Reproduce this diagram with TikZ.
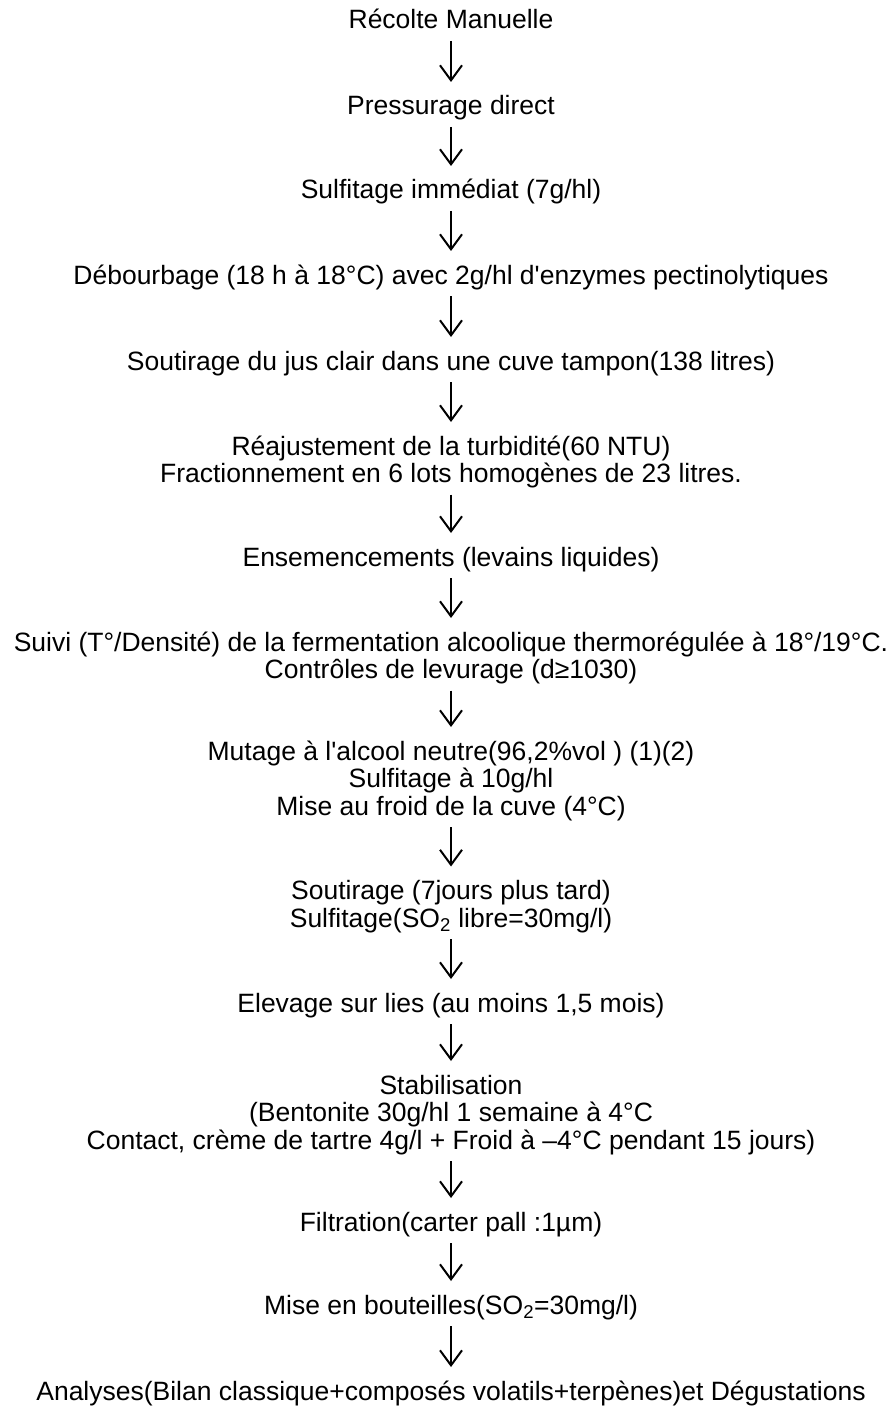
\documentclass[tikz,border=0pt]{standalone}
\usepackage{fontspec}
\setmainfont{Liberation Sans}
\usetikzlibrary{arrows.meta}
\begin{document}
\begin{tikzpicture}[x=1bp,y=-1bp,
  lbl/.style={anchor=base, inner sep=0pt, align=center, font=\fontsize{26.5bp}{27.5bp}\selectfont},
  arr/.style={-{Straight Barb[length=15bp,width=22bp,line width=2bp]}, line width=2bp, shorten <=12bp, shorten >=#1},
  arr/.default=33bp]
\useasboundingbox (0,0) rectangle (894,1413);
% base anchor = baseline of the last line
\node[lbl] (s1) at (451,29) {Récolte Manuelle};
\node[lbl] (s2) at (451,115) {Pressurage direct};
\node[lbl] (s3) at (451,199) {Sulfitage immédiat (7g/hl)};
\node[lbl] (s4) at (451,284) {Débourbage (18 h à 18°C) avec 2g/hl d\textquotesingle enzymes pectinolytiques};
\node[lbl] (s5) at (451,370) {Soutirage du jus clair dans une cuve tampon(138 litres)};
\node[lbl] (s6) at (451,482.5) {Réajustement de la turbidité(60 NTU)\\Fractionnement en 6 lots homogènes de 23 litres.};
\node[lbl] (s7) at (451,566) {Ensemencements (levains liquides)};
\node[lbl] (s8) at (451,678.5) {Suivi (T°/Densité) de la fermentation alcoolique thermorégulée à 18°/19°C.\\Contrôles de levurage (d≥1030)};
\node[lbl] (s9) at (451,815) {Mutage à l\textquotesingle alcool neutre(96,2\%vol ) (1)(2)\\Sulfitage à 10g/hl\\Mise au froid de la cuve (4°C)};
\node[lbl] (s10) at (451,927) {Soutirage (7jours plus tard)\\Sulfitage(SO\textsubscript{2} libre=30mg/l)};
\node[lbl] (s11) at (451,1012) {Elevage sur lies (au moins 1,5 mois)};
\node[lbl] (s12) at (451,1149) {Stabilisation\\(Bentonite 30g/hl 1 semaine à 4°C\\Contact, crème de tartre 4g/l + Froid à –4°C pendant 15 jours)};
\node[lbl] (s13) at (451,1231) {Filtration(carter pall :1µm)};
\node[lbl] (s14) at (451,1314) {Mise en bouteilles(SO\textsubscript{2}=30mg/l)};
\node[lbl] (s15) at (451,1400) {Analyses(Bilan classique+composés volatils+terpènes)et Dégustations};
\draw[arr] (s1.base) -- (s2.base);
\draw[arr] (s2.base) -- (s3.base);
\draw[arr] (s3.base) -- (s4.base);
\draw[arr] (s4.base) -- (s5.base);
\draw[arr=60.5bp] (s5.base) -- (s6.base);
\draw[arr] (s6.base) -- (s7.base);
\draw[arr=60.5bp] (s7.base) -- (s8.base);
\draw[arr=88bp] (s8.base) -- (s9.base);
\draw[arr=60.5bp] (s9.base) -- (s10.base);
\draw[arr] (s10.base) -- (s11.base);
\draw[arr=88bp] (s11.base) -- (s12.base);
\draw[arr] (s12.base) -- (s13.base);
\draw[arr] (s13.base) -- (s14.base);
\draw[arr] (s14.base) -- (s15.base);
\end{tikzpicture}
\end{document}
